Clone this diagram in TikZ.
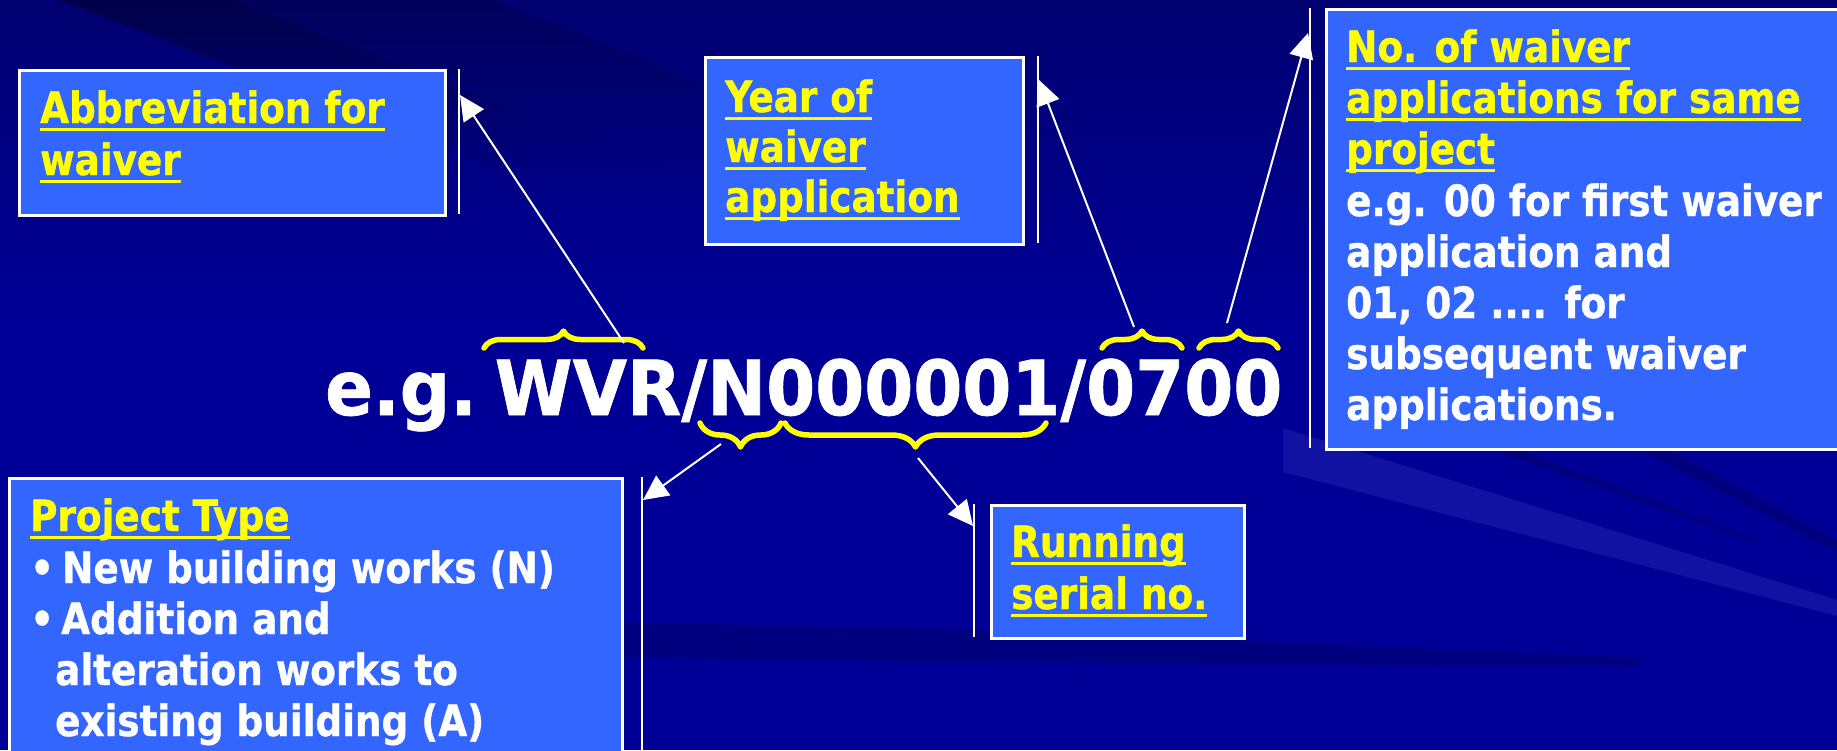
\documentclass[tikz,border=0pt]{standalone}
\usepackage{fontspec}
\usepackage{graphicx}
\usetikzlibrary{arrows.meta,decorations.pathreplacing}
\newfontfamily\tah{DejaVu Sans Condensed Bold}[FakeStretch=0.965,FakeBold=0.9]
\definecolor{bgbase}{RGB}{0,0,150}
\definecolor{bgtop}{RGB}{0,0,112}
\definecolor{bgdark}{RGB}{0,0,72}
\definecolor{bgdarkb}{RGB}{0,0,90}
\definecolor{bgband}{RGB}{0,0,132}
\definecolor{bgmid}{RGB}{0,0,126}
\definecolor{bgstreak}{RGB}{0,0,112}
\definecolor{bglight}{RGB}{18,18,162}
\definecolor{boxblue}{RGB}{51,102,255}
\definecolor{uyellow}{RGB}{255,255,0}
\newcommand\yul[1]{\sbox0{#1}\rlap{\color{uyellow}\rule[-7.5pt]{\wd0}{2.8pt}}\usebox0}
\tikzset{
  box/.style={draw=white, line width=2.5pt, fill=boxblue, inner sep=0pt, anchor=north west},
  ytext/.style={text=uyellow, font=\tah\fontsize{43}{51}\selectfont, anchor=base west, inner sep=0pt},
  wtext/.style={text=white, font=\tah\fontsize{43}{51}\selectfont, anchor=base west, inner sep=0pt},
  vline/.style={draw=white, line width=2.5pt},
  arr/.style={draw=white, line width=2pt, -{Triangle[length=25pt,width=24pt]}},
  ybrace/.style={draw=uyellow, line width=5.5pt, line cap=round, line join=round, decorate, decoration={brace, amplitude=#1}},
}
\begin{document}
\begin{tikzpicture}[x=1pt,y=-1pt]
\useasboundingbox (0,0) rectangle (1837,750);
\clip (0,0) rectangle (1837,750);
% background
\fill[bgbase] (0,0) rectangle (1837,750);
\shade[top color=bgtop, bottom color=bgbase] (0,0) rectangle (1837,320);
\shade[top color=bgdark, bottom color=bgband] (60,0) -- (232,0) -- (700,180) -- (528,180) -- cycle;
\shade[top color=bgdarkb, bottom color=bgband] (232,0) -- (491,0) -- (959,180) -- (700,180) -- cycle;
\fill[bglight] (1283,428) -- (1837,600) -- (1837,616) -- (1283,472) -- cycle;
\fill[bgmid] (600,622) -- (1000,630) -- (1640,658) -- (1640,666) -- (1000,662) -- (600,657) -- cycle;
\fill[bgstreak, opacity=0.6] (1495,450) -- (1520,450) -- (1760,540) -- (1749,540) -- cycle;
\fill[bgstreak, opacity=0.6] (1640,450) -- (1670,450) -- (1837,540) -- (1837,552) -- cycle;

% boxes
\node[box, minimum width=426pt, minimum height=145pt] (boxA) at (18,69) {};
\node[box, minimum width=318pt, minimum height=187pt] (boxY) at (704,56) {};
\node[box, minimum width=540pt, minimum height=440pt] (boxN) at (1325,8) {};
\node[box, minimum width=613pt, minimum height=300pt] (boxP) at (8,477) {};
\node[box, minimum width=253pt, minimum height=133pt] (boxR) at (990,504) {};

% separator lines
\coordinate (vAt) at (459,69);  \coordinate (vAb) at (459,214);
\coordinate (vYt) at (1038,56); \coordinate (vYb) at (1038,243);
\coordinate (vNt) at (1310,8);  \coordinate (vNb) at (1310,448);
\coordinate (vPt) at (642,477); \coordinate (vPb) at (642,760);
\coordinate (vRt) at (974,504); \coordinate (vRb) at (974,637);
\draw[vline] (vAt) -- (vAb);
\draw[vline] (vYt) -- (vYb);
\draw[vline] (vNt) -- (vNb);
\draw[vline] (vPt) -- (vPb);
\draw[vline] (vRt) -- (vRb);

% box texts
\node[ytext] (a1) at (40,123) {\yul{Abbreviation for}};
\node[ytext] (a2) at (40,175) {\yul{waiver}};

\node[ytext] (y1) at (725,112) {\yul{Year of}};
\node[ytext] (y2) at (725,162) {\yul{waiver}};
\node[ytext] (y3) at (725,212) {\yul{application}};

\node[ytext] (n1) at (1346,62) {\yul{No. of waiver}};
\node[ytext] (n2) at (1346,113) {\yul{applications for same}};
\node[ytext] (n3) at (1346,164) {\yul{project}};
\node[wtext] (n4) at (1346,216) {e.g. 00 for first waiver};
\node[wtext] (n5) at (1346,267) {application and};
\node[wtext] (n6) at (1346,318) {01, 02 .... for};
\node[wtext] (n7) at (1346,369) {subsequent waiver};
\node[wtext] (n8) at (1346,420) {applications.};

\node[ytext] (p1) at (30,531) {\yul{Project Type}};
\node[wtext] (pb1) at (30,583) {•};
\node[wtext] (p2) at (62,583) {New building works (N)};
\node[wtext] (pb2) at (30,634) {•};
\node[wtext] (p3) at (61,634) {Addition and};
\node[wtext] (p4) at (55,685) {alteration works to};
\node[wtext] (p5) at (55,736) {existing building (A)};

\node[ytext] (r1) at (1011,557) {\yul{Running}};
\node[ytext] (r2) at (1011,609) {\yul{serial no.}};

% main code
\node[text=white, font=\tah\fontsize{76}{90}\selectfont, anchor=base west, inner sep=0pt] (main) at (325,415)
  {\resizebox{957pt}{\height}{e.g.\hspace{0.22em}WVR/N000001/0700}};

% braces
\draw[ybrace=17pt] (484,348) -- (643,348);
\draw[ybrace=17pt] (1102,348) -- (1182,348);
\draw[ybrace=17pt] (1199,348) -- (1278,348);
\draw[ybrace=24pt] (781,423) -- (700,423);
\draw[ybrace=24pt] (1046,423) -- (785,423);

% arrows
\coordinate (sA) at (624,343); \coordinate (eA) at (460,95);
\coordinate (sY) at (1134,327); \coordinate (eY) at (1039,80);
\coordinate (sN) at (1227,323); \coordinate (eN) at (1308,33);
\coordinate (sP) at (721,444); \coordinate (eP) at (643,500);
\coordinate (sR) at (918,458); \coordinate (eR) at (973,526);
\draw[arr] (sA) -- (eA);
\draw[arr] (sY) -- (eY);
\draw[arr] (sN) -- (eN);
\draw[arr] (sP) -- (eP);
\draw[arr] (sR) -- (eR);
\end{tikzpicture}
\end{document}
